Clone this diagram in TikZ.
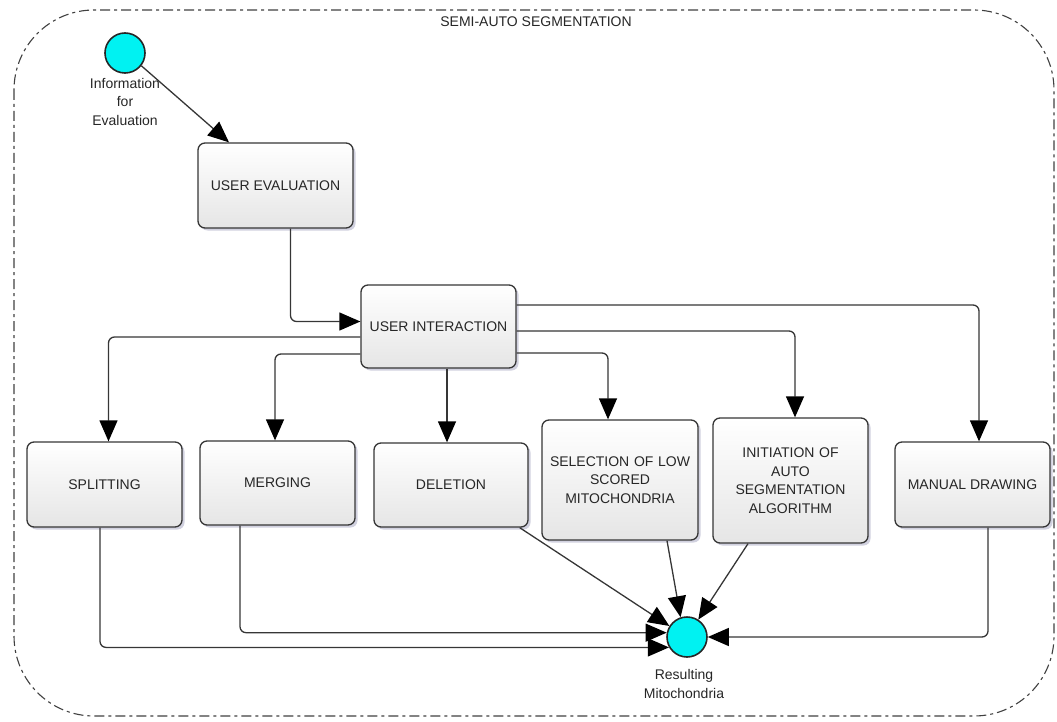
\documentclass[tikz,border=0pt]{standalone}
\usepackage{fontspec}
\setmainfont{Liberation Sans}
\usetikzlibrary{arrows.meta,shadows}

\definecolor{edgegray}{HTML}{363636}
\definecolor{ballcyan}{HTML}{00F2F2}

\tikzset{
  stepbox/.style={
    draw=edgegray, line width=1.3pt, rounded corners=7pt,
    top color=white, bottom color=black!10,
    drop shadow={shadow xshift=2.5pt, shadow yshift=-2.5pt, fill=blue!30!black!40, opacity=0.45},
    font=\fontsize{14}{18.5}\selectfont, text=black!85, align=center,
    inner sep=2pt},
  ball/.style={circle, draw=black!85, line width=1.6pt, fill=ballcyan, minimum size=40pt, inner sep=0pt},
  balllabel/.style={font=\fontsize{14}{18.5}\selectfont, text=black!85, align=center},
  link/.style={draw=edgegray, line width=1.3pt, rounded corners=6pt},
  arrowlink/.style={link, -{Triangle[length=21pt, width=18pt, color=black]}},
  frame/.style={draw=black!75, line width=1.1pt, dash pattern=on 10pt off 4pt on 3pt off 4pt, rounded corners=80pt}
}

\begin{document}
\begin{tikzpicture}[x=1pt, y=-1pt]
  \useasboundingbox (0,0) rectangle (1057,722);

  % enclosing activity frame
  \draw[frame] (14,10) rectangle (1054,716);
  \node[balllabel] (title) at (536,22) {SEMI-AUTO SEGMENTATION};

  % start and end events
  \node[ball] (start) at (125,53) {};
  \node[balllabel] (startlbl) at (125,101.5) {Information\\for\\Evaluation};
  \node[ball] (finish) at (687,637) {};
  \node[balllabel] (finishlbl) at (684,684) {Resulting\\Mitochondria};

  % activities
  \node[stepbox, minimum width=155pt, minimum height=85pt] (ueval) at (275.5,185.5) {USER EVALUATION};
  \node[stepbox, minimum width=155pt, minimum height=83pt] (uint) at (438.5,326.5) {USER INTERACTION};
  \node[stepbox, minimum width=155pt, minimum height=85pt] (split) at (104.5,484.5) {SPLITTING};
  \node[stepbox, minimum width=155pt, minimum height=84pt] (merge) at (277.5,483) {MERGING};
  \node[stepbox, minimum width=154pt, minimum height=84pt] (del) at (451,485) {DELETION};
  \node[stepbox, text width=148pt, minimum width=156pt, minimum height=120pt] (sel) at (620,480) {SELECTION OF LOW\\SCORED\\MITOCHONDRIA};
  \node[stepbox, text width=148pt, minimum width=155pt, minimum height=125pt] (init) at (790.5,480.5) {INITIATION OF\\AUTO\\SEGMENTATION\\ALGORITHM};
  \node[stepbox, minimum width=155pt, minimum height=85pt] (manual) at (972.5,484.5) {MANUAL DRAWING};

  % flow into the interaction step
  \draw[arrowlink] (start.-38) -- ([xshift=-46.5pt]ueval.north);
  \draw[arrowlink] ([xshift=15pt]ueval.south) |- ([yshift=5pt]uint.west);

  % branches out of the interaction step
  \draw[arrowlink] ([yshift=-10.5pt]uint.west) -| ([xshift=4pt]split.north);
  \draw[arrowlink] ([yshift=-27.5pt]uint.west) -| ([xshift=-2.5pt]merge.north);
  \draw[arrowlink] ([xshift=8.5pt]uint.south) -- ([xshift=8.5pt]uint.south |- del.north);
  \draw[arrowlink] ([yshift=-26.5pt]uint.east) -| ([xshift=-12pt]sel.north);
  \draw[arrowlink] ([yshift=-4.5pt]uint.east) -| ([xshift=4.5pt]init.north);
  \draw[arrowlink] ([yshift=21.5pt]uint.east) -| ([xshift=6.5pt]manual.north);

  % results gathered into the end event
  \draw[arrowlink] ([xshift=-4.5pt]split.south) |- (finish.210);
  \draw[arrowlink] ([xshift=-37.5pt]merge.south) |- (finish.168);
  \draw[arrowlink] ([xshift=-9pt]del.south east) -- (finish.148);
  \draw[arrowlink] ([xshift=47pt]sel.south) -- (finish.108);
  \draw[arrowlink] ([xshift=-42.5pt]init.south) -- (finish.57);
  \draw[arrowlink] ([xshift=15.5pt]manual.south) |- (finish.east);
\end{tikzpicture}
\end{document}
